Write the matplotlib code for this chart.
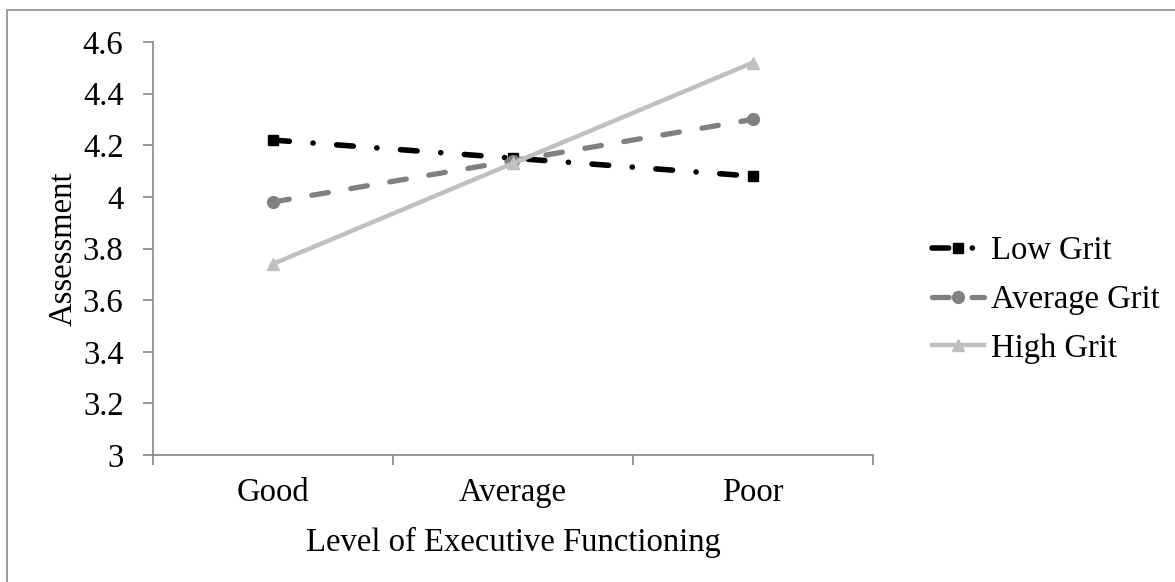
import numpy as np
import matplotlib
matplotlib.use("Agg")
import matplotlib.pyplot as plt
from matplotlib.patches import Rectangle

categories = ["Good", "Average", "Poor"]
low_grit = [4.22, 4.15, 4.08]
average_grit = [3.98, 4.14, 4.30]
high_grit = [3.74, 4.13, 4.52]
y_ticks = [3, 3.2, 3.4, 3.6, 3.8, 4, 4.2, 4.4, 4.6]
y_tick_labels = ["3", "3.2", "3.4", "3.6", "3.8", "4", "4.2", "4.4", "4.6"]

plt.rcParams['font.family'] = ['Liberation Serif', 'DejaVu Serif']
plt.rcParams['lines.scale_dashes'] = False
FS = 23.5

fig = plt.figure(figsize=(11.75, 5.82), dpi=100)
ax = fig.add_axes([0.130, 0.218, 0.613, 0.710])

# outer chart border
fig.patches.append(Rectangle((7 / 1175, -0.1), 1.2, 1 - 10 / 582 + 0.1,
                             transform=fig.transFigure, fill=False,
                             edgecolor='#8c8c8c', linewidth=1.2))

x = np.arange(len(categories))
ax.plot(x, low_grit, color='black', lw=4, linestyle=(0, (12, 17, 0.1, 17)),
        dash_capstyle='round', marker='s', markersize=7, label='Low Grit')
ax.plot(x, average_grit, color='#808080', lw=3.8, linestyle=(0, (12, 16.5)),
        dash_capstyle='round', marker='o', markersize=8.5, label='Average Grit')
ax.plot(x, high_grit, color='#c0c0c0', lw=3.2, linestyle='-',
        marker='^', markersize=8.5, label='High Grit')

ax.set_xlim(-0.5, 2.5)
ax.set_ylim(3, 4.6)
ax.set_yticks(y_ticks)
ax.set_yticklabels(y_tick_labels)
ax.set_xticks([-0.5, 0.5, 1.5, 2.5])
ax.set_xticklabels([])
ax.set_xticks(x, minor=True)
ax.set_xticklabels(categories, minor=True)

for side in ['top', 'right']:
    ax.spines[side].set_visible(False)
for side in ['left', 'bottom']:
    ax.spines[side].set_color('#868686')
    ax.spines[side].set_linewidth(1.2)

ax.tick_params(axis='both', which='major', direction='out', length=7,
               width=1.2, color='#868686', labelsize=FS, pad=14)
ax.tick_params(axis='x', which='minor', length=0, labelsize=FS, pad=16)

ax.set_xlabel("Level of Executive Functioning", fontsize=FS, labelpad=14)
ax.set_ylabel("Assessment", fontsize=FS, labelpad=3)

ax.legend(loc='center left', bbox_to_anchor=(0.793, 0.485),
          bbox_transform=fig.transFigure, frameon=False, fontsize=FS,
          handlelength=1.6, handletextpad=0.2, labelspacing=0.56,
          borderpad=0, borderaxespad=0)

fig.savefig("out.png", dpi=100)
